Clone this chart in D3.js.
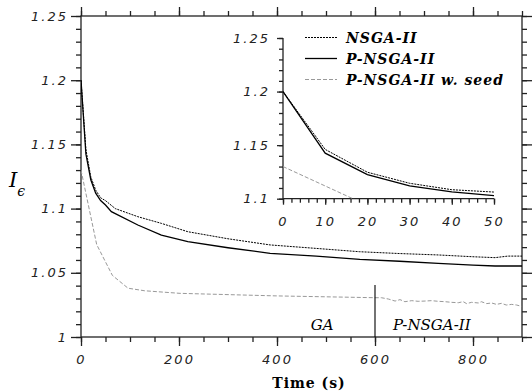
<!DOCTYPE html>
<html>
<head>
<meta charset="utf-8">
<script src="https://cdn.jsdelivr.net/npm/d3@7"></script>
<style>
  body { margin: 0; background: #fff; }
  .tick text { font-family: "DejaVu Sans", sans-serif; font-style: italic; font-size: 13px; letter-spacing: 2px; fill: #222; }
  .axis path, .axis line { stroke: #222; stroke-width: 1.3; }
</style>
</head>
<body>
<svg width="532" height="392"></svg>
<script>
// data
const nsgaT = [0, 10, 20, 30, 40, 50, 70, 116, 164, 218, 300, 386, 480, 569, 650, 729, 800, 845, 871, 900];
const nsgaV = [1.2, 1.146, 1.1247, 1.1144, 1.1084, 1.1062, 1.100, 1.0937, 1.0885, 1.082, 1.0765, 1.0717, 1.069, 1.0664, 1.065, 1.0639, 1.0625, 1.0618, 1.063, 1.063];

const pnsgaT = [0, 10, 20, 30, 40, 50, 62, 116, 164, 218, 300, 386, 480, 569, 650, 729, 800, 845, 900];
const pnsgaV = [1.2, 1.1425, 1.1225, 1.112, 1.1063, 1.1028, 1.0976, 1.0872, 1.0794, 1.0742, 1.0695, 1.0652, 1.063, 1.0605, 1.059, 1.0574, 1.056, 1.0553, 1.0553];

const seedT = [0, 32, 64, 96, 130, 202, 400, 600, 613, 627, 641, 651, 661, 675, 688, 702, 715, 729, 743, 756, 770, 780, 787, 797, 811, 817, 828, 838, 848, 858, 868, 879, 889, 899];
const seedV = [1.13, 1.072, 1.048, 1.038, 1.036, 1.034, 1.032, 1.0306, 1.0306, 1.0296, 1.0280, 1.0291, 1.0275, 1.0283, 1.0278, 1.0280, 1.0283, 1.0278, 1.0275, 1.0270, 1.0267, 1.0275, 1.0260, 1.0270, 1.0265, 1.0275, 1.0260, 1.0265, 1.0254, 1.0262, 1.0249, 1.0254, 1.0249, 1.0239];

const seriesNames = ["NSGA-II", "P-NSGA-II", "P-NSGA-II w. seed"];
const xTicks = [0, 200, 400, 600, 800];
const yTicks = [1, 1.05, 1.1, 1.15, 1.2, 1.25];
const insetXTicks = [0, 10, 20, 30, 40, 50];
const insetYTicks = [1.1, 1.15, 1.2, 1.25];
const switchTime = 600;
const switchTop = 1.0405;
const phaseLabels = ["GA", "P-NSGA-II"];

const series = [
  { name: seriesNames[0], t: nsgaT, v: nsgaV, color: "#000", dash: "2,1", w: 1 },
  { name: seriesNames[1], t: pnsgaT, v: pnsgaV, color: "#000", dash: null, w: 1.3 },
  { name: seriesNames[2], t: seedT, v: seedV, color: "#999", dash: "4,2", w: 1 }
];

const svg = d3.select("svg");
const fmt = d => d3.format("")(d);

// main plot
const x = d3.scaleLinear().domain([0, 900]).range([81, 522]);
const y = d3.scaleLinear().domain([1, 1.25]).range([337, 16]);

svg.append("defs").append("clipPath").attr("id", "clipMain")
  .append("rect").attr("x", 81).attr("y", 16).attr("width", 441).attr("height", 321);

const minorX = d3.range(0, 901, 50);
const minorY = d3.range(0, 26).map(i => 1 + i * 0.01);

function addAxis(axisFn, scale, ticks, size, pad, transform) {
  const a = axisFn(scale).tickValues(ticks).tickSize(size).tickSizeOuter(0);
  if (pad != null) a.tickFormat(fmt).tickPadding(pad); else a.tickFormat("");
  const g = svg.append("g").attr("class", "axis").attr("transform", transform).call(a);
  g.select(".domain").remove();
  return g;
}

// bottom
addAxis(d3.axisBottom, x, minorX, 5, null, "translate(0,337)");
addAxis(d3.axisBottom, x, xTicks, 9, 9, "translate(0,337)");
// top
addAxis(d3.axisTop, x, minorX, 5, null, "translate(0,16)");
addAxis(d3.axisTop, x, xTicks, 9, null, "translate(0,16)");
// left
addAxis(d3.axisLeft, y, minorY, 5, null, "translate(81,0)");
addAxis(d3.axisLeft, y, yTicks, 10, 3, "translate(81,0)");
// right
addAxis(d3.axisRight, y, minorY, 5, null, "translate(522,0)");
addAxis(d3.axisRight, y, yTicks, 10, null, "translate(522,0)");

svg.append("rect").attr("x", 81).attr("y", 16).attr("width", 441).attr("height", 321)
  .attr("fill", "none").attr("stroke", "#222").attr("stroke-width", 1.3);

const line = d3.line();
const main = svg.append("g").attr("clip-path", "url(#clipMain)");
series.forEach(s => {
  main.append("path")
    .attr("d", line(s.t.map((t, i) => [x(t), y(s.v[i])])))
    .attr("fill", "none").attr("stroke", s.color).attr("stroke-width", s.w)
    .attr("stroke-dasharray", s.dash);
});

// phase switch
svg.append("line")
  .attr("x1", x(switchTime)).attr("x2", x(switchTime))
  .attr("y1", y(1)).attr("y2", y(switchTop))
  .attr("stroke", "#000").attr("stroke-width", 1.1);
svg.append("text").attr("x", x(492)).attr("y", 330).attr("text-anchor", "middle")
  .style("font-family", "DejaVu Serif").style("font-style", "italic").style("font-size", "15px")
  .text(phaseLabels[0]);
svg.append("text").attr("x", x(716)).attr("y", 330).attr("text-anchor", "middle")
  .style("font-family", "DejaVu Serif").style("font-style", "italic").style("font-size", "15px")
  .text(phaseLabels[1]);

// axis titles
svg.append("text").attr("x", 309).attr("y", 388).attr("text-anchor", "middle")
  .style("font-family", "DejaVu Serif").style("font-weight", "bold").style("font-size", "14px")
  .style("letter-spacing", "1px")
  .text("Time (s)");
const yl = svg.append("text").attr("x", 9).attr("y", 187)
  .style("font-family", "DejaVu Serif").style("font-style", "italic").style("font-size", "21px");
yl.append("tspan").text("I");
yl.append("tspan").attr("dy", 9).style("font-size", "14px").text("ϵ");

// inset
const ix = d3.scaleLinear().domain([0, 50]).range([283, 494]);
const iy = d3.scaleLinear().domain([1.1, 1.25]).range([198.7, 38]);

svg.append("defs").append("clipPath").attr("id", "clipInset")
  .append("rect").attr("x", 283).attr("y", 38).attr("width", 211).attr("height", 160.7);

const insetMinorX = d3.range(0, 51, 2);
const insetMinorY = d3.range(0, 16).map(i => 1.1 + i * 0.01);

addAxis(d3.axisBottom, ix, insetMinorX, 4, null, "translate(0,198.7)");
addAxis(d3.axisBottom, ix, insetXTicks, 6, 12, "translate(0,198.7)");
addAxis(d3.axisLeft, iy, insetMinorY, 4, null, "translate(283,0)");
addAxis(d3.axisLeft, iy, insetYTicks, 6, 7, "translate(283,0)");
svg.append("path").attr("d", `M283,38V198.7H494`).attr("fill", "none")
  .attr("stroke", "#222").attr("stroke-width", 1.3);

const inset = svg.append("g").attr("clip-path", "url(#clipInset)");
series.forEach(s => {
  inset.append("path")
    .attr("d", line(s.t.map((t, i) => [ix(t), iy(s.v[i])])))
    .attr("fill", "none").attr("stroke", s.color).attr("stroke-width", s.w)
    .attr("stroke-dasharray", s.dash);
});

// legend
const leg = svg.append("g");
series.forEach((s, i) => {
  const ly = 37.5 + i * 21;
  leg.append("line").attr("x1", 305).attr("x2", 337).attr("y1", ly).attr("y2", ly)
    .attr("stroke", s.color).attr("stroke-width", s.w).attr("stroke-dasharray", s.dash);
  leg.append("text").attr("x", 346).attr("y", ly + 5)
    .style("font-family", "DejaVu Serif").style("font-weight", "bold").style("font-style", "italic")
    .style("font-size", "14px").style("letter-spacing", "1px").text(s.name);
});
</script>
</body>
</html>
